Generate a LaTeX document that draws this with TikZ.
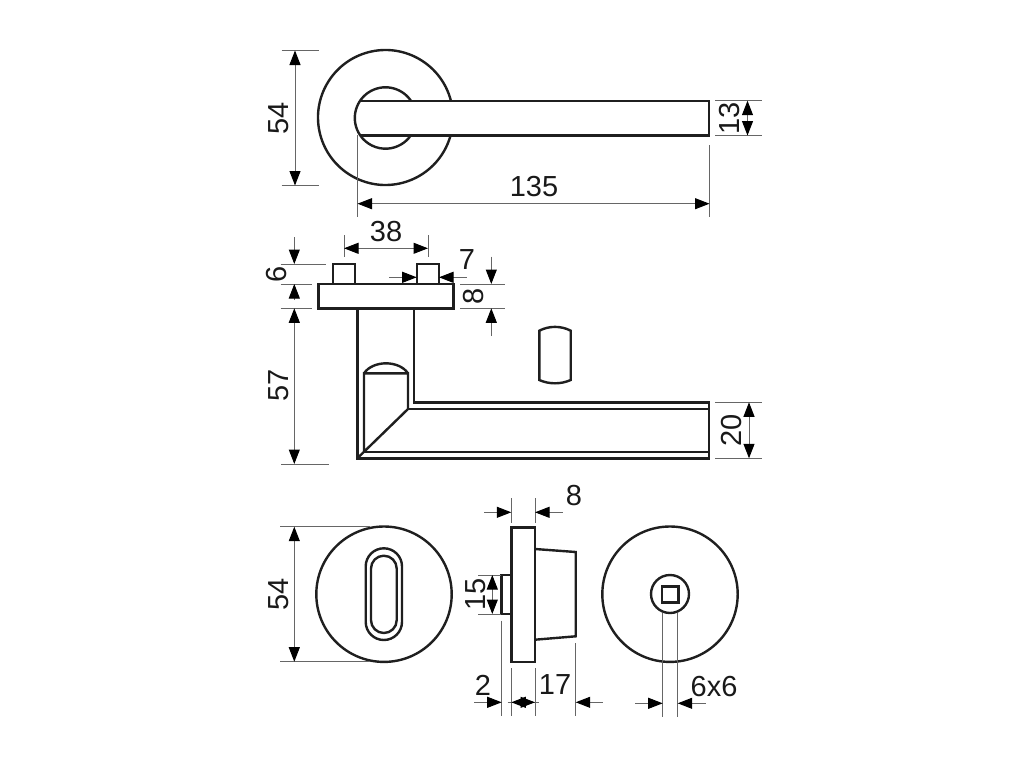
\documentclass[tikz,border=0pt]{standalone}
\usepackage{fontspec}
\setmainfont{Liberation Sans}
\usetikzlibrary{arrows.meta}
\tikzset{
  part/.style={draw=black!88,line width=2.4pt,line join=miter},
  dimline/.style={draw=black!60,line width=1pt},
  tip/.style={dimline,-{Triangle[length=14.5pt,width=11pt,color=black]}},
  lab/.style={inner sep=0pt,text=black!90,font=\fontsize{29}{29}\selectfont},
  vlab/.style={lab,rotate=90}
}
\begin{document}
\begin{tikzpicture}[x=1pt,y=-1pt]
\useasboundingbox (0,0) rectangle (1024,768);
% ===== top view =====
\draw[part] (385.5,117.5) ++(-14.9:67.5) arc[start angle=-14.9,end angle=-345.1,radius=67.5];
\draw[part] (385.5,118) ++(-34.3:30.7) arc[start angle=-34.3,end angle=-325.7,radius=30.7];
\draw[part] (360,100.7) -- (708.7,100.7) -- (708.7,135.3) -- (360,135.3);
% 54
\draw[dimline] (281.7,50.5) -- (319,50.5) (281.7,185.5) -- (319,185.5);
\draw[tip] (295,118) -- (295,50.5);
\draw[tip] (295,118) -- (295,185.5);
\node[vlab] (a54) at (278.5,118) {54};
% 135
\draw[dimline] (357.5,135.3) -- (357.5,217) (709.5,145) -- (709.5,217);
\draw[tip] (534,203.7) -- (357.5,203.7);
\draw[tip] (534,203.7) -- (709.5,203.7);
\node[lab] (a135) at (534,187) {135};
% 13
\draw[dimline] (715,100.7) -- (761.7,100.7) (715,135.5) -- (761.7,135.5);
\draw[tip] (747.5,118) -- (747.5,100.7);
\draw[tip] (747.5,118) -- (747.5,135.5);
\node[vlab] (a13) at (730,118) {13};
% ===== side view =====
\draw[part] (318.3,284) rectangle (453.3,308.3);
\draw[part] (332.7,284) |- (355,264) -- (355,284);
\draw[part] (416.7,284) |- (439,264) -- (439,284);
\draw[part] (357.3,308.3) -- (357.3,458.3) -- (708.7,458.3) -- (708.7,402.3) -- (414,402.3) -- (414,308.3);
\draw[part] (408,409) -- (708.7,409);
\draw[part] (364,452) -- (708.7,452);
\draw[part] (357.3,458.3) -- (408,409) -- (408,373.3) -- (364,373.3) -- (364,452);
\draw[part] (364,373.3) .. controls (373,360) and (399,360) .. (408,373.3);
\draw[part] (539.3,330.7) .. controls (549,325.6) and (561,325.6) .. (570.7,330.7) -- (570.7,380) .. controls (561,384.4) and (549,384.4) .. (539.3,380) -- cycle;
% 38
\draw[dimline] (344,235) -- (344,257) (428,235) -- (428,257);
\draw[tip] (386,248.3) -- (344,248.3);
\draw[tip] (386,248.3) -- (428,248.3);
\node[lab] (b38) at (386,232) {38};
% 7
\draw[tip] (389.3,277.3) -- (416.7,277.3);
\draw[tip] (466.7,277.3) -- (439,277.3);
\node[lab] (b7) at (467,260) {7};
% 6 and 57
\draw[dimline] (280.7,264) -- (326,264) (280.7,284) -- (311.7,284) (280.7,308.3) -- (311.7,308.3) (281,464) -- (329,464);
\draw[tip] (294.3,237.3) -- (294.3,264);
\draw[tip] (294.3,300) -- (294.3,284);
\draw[tip] (294.3,386) -- (294.3,308.3);
\draw[tip] (294.3,386) -- (294.3,464);
\node[vlab] (b6) at (277,274) {6};
\node[vlab] (b57) at (278.5,385) {57};
% 8
\draw[dimline] (460,284) -- (505,284) (460,308.3) -- (505,308.3);
\draw[tip] (491.3,256.7) -- (491.3,284);
\draw[tip] (491.3,336) -- (491.3,308.3);
\node[vlab] (b8) at (474,296) {8};
% 20
\draw[dimline] (715,402.3) -- (762,402.3) (715,458.3) -- (762,458.3);
\draw[tip] (749,430) -- (749,402.3);
\draw[tip] (749,430) -- (749,458.3);
\node[vlab] (b20) at (731.5,430.5) {20};
% ===== bottom left =====
\draw[part] (384,594.2) circle[radius=67.7];
\draw[part,rounded corners=18.1pt] (365.7,548.3) rectangle (402,640);
\draw[part,rounded corners=12.8pt] (371,555.7) rectangle (396.7,633);
\draw[dimline] (280,526.7) -- (370,526.7) (280,661.7) -- (370,661.7);
\draw[tip] (294.3,594) -- (294.3,526.7);
\draw[tip] (294.3,594) -- (294.3,661.7);
\node[vlab] (c54) at (278.5,594) {54};
% ===== bottom middle =====
\draw[part] (511.3,527.3) rectangle (535,661.7);
\draw[part] (535,549) -- (575.7,552) -- (575.7,636.3) -- (535,639.7);
\draw[part] (511.3,575) -- (501.3,575) -- (501.3,614) -- (511.3,614);
% 8
\draw[dimline] (511.3,498) -- (511.3,522.7) (535,498) -- (535,522.7);
\draw[tip] (484,512.3) -- (511.3,512.3);
\draw[tip] (562.7,512.3) -- (535,512.3);
\node[lab] (d8) at (574,496) {8};
% 15
\draw[dimline] (478,575) -- (501,575) (478,614) -- (501,614);
\draw[tip] (492.3,594.5) -- (492.3,575);
\draw[tip] (492.3,594.5) -- (492.3,614);
\node[vlab] (d15) at (475.7,594.5) {15};
% 2, width, 17
\draw[dimline] (501.7,620.7) -- (501.7,716) (511.3,668) -- (511.3,716) (535,668) -- (535,716) (575.7,643) -- (575.7,716);
\draw[tip] (474,702.3) -- (501.7,702.3);
\draw[dimline] (507.7,702.3) -- (539,702.3);
\draw[tip] (523.2,702.3) -- (511.3,702.3);
\draw[tip] (523.2,702.3) -- (535,702.3);
\draw[tip] (602.7,702.3) -- (575.7,702.3);
\node[lab] (d2) at (483,685) {2};
\node[lab] (d17) at (555,685) {17};
% ===== bottom right =====
\draw[part] (670,594.2) circle[radius=67.7];
\draw[part] (670,594) circle[radius=19];
\draw[part] (661.7,586.3) rectangle (678.3,602.3);
\draw[dimline] (662.7,612.7) -- (662.7,717.3) (677.7,612.7) -- (677.7,717.3);
\draw[tip] (635,703.3) -- (662.7,703.3);
\draw[tip] (705.7,703.3) -- (677.7,703.3);
\node[lab] (e6) at (714,686.5) {6x6};
\end{tikzpicture}
\end{document}
